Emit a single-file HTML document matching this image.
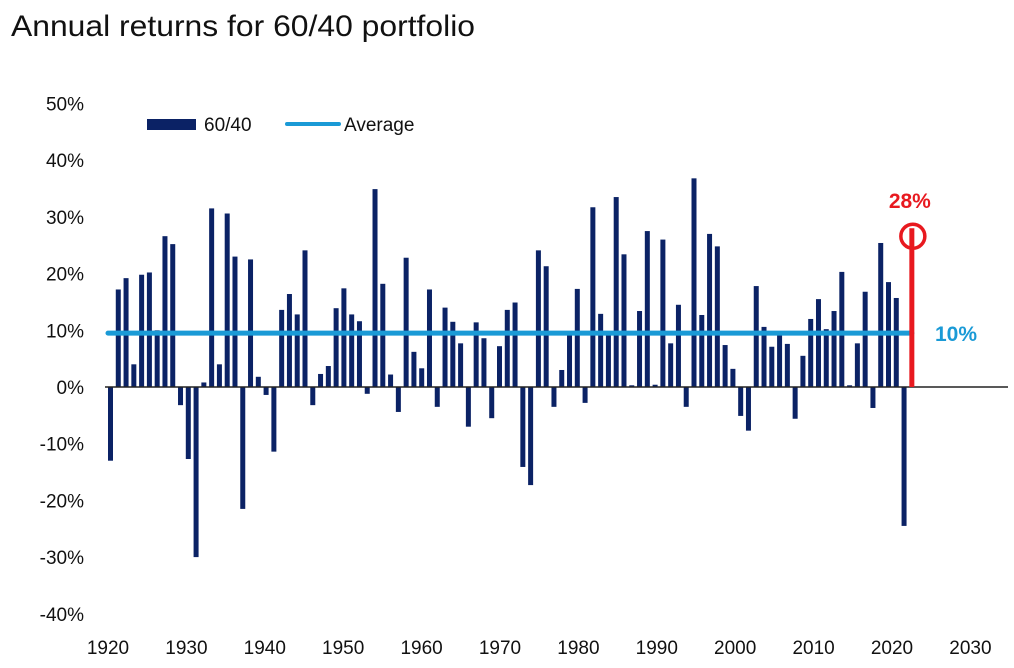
<!DOCTYPE html>
<html><head><meta charset="utf-8"><style>
body{margin:0;background:#fff;}
svg{display:block;font-family:"Liberation Sans",Arial,sans-serif;}
</style></head><body>
<svg id="chart" width="1014" height="668" viewBox="0 0 1014 668">
<text x="11" y="36" font-size="30" fill="#111" textLength="464" lengthAdjust="spacingAndGlyphs">Annual returns for 60/40 portfolio</text>
<g id="yaxis"></g>
<g id="xaxis"></g>
<g id="bars"></g>
<line x1="105" y1="387" x2="1008" y2="387" stroke="#222" stroke-width="1.5"/>
<g id="overlay"></g>
<g>
<rect x="147" y="119" width="49" height="11" fill="#0b2265"/>
<text x="204" y="131" font-size="19" fill="#111">60/40</text>
<line x1="287" y1="124" x2="339" y2="124" stroke="#1a9ad6" stroke-width="4" stroke-linecap="round"/>
<text x="344" y="131" font-size="19" fill="#111">Average</text>
</g>
</svg>
<script>
const startYear = 1920;
const returns6040 = [-13,17.2,19.2,4,19.8,20.2,10,26.6,25.2,-3.2,-12.7,-30,0.8,31.5,4,30.6,23,-21.5,22.5,1.8,
-1.4,-11.4,13.6,16.4,12.8,24.1,-3.2,2.3,3.7,13.9,17.4,12.8,11.6,-1.2,34.9,18.2,2.2,-4.4,22.8,6.2,
3.3,17.2,-3.5,14,11.5,7.7,-7,11.4,8.6,-5.5,7.2,13.6,14.9,-14.1,-17.3,24.1,21.3,-3.5,3,9.8,
17.3,-2.8,31.7,12.9,9.8,33.5,23.4,0.3,13.4,27.5,0.4,26,7.7,14.5,-3.5,36.8,12.7,27,24.8,7.4,
3.2,-5.1,-7.7,17.8,10.6,7.1,9.2,7.6,-5.6,5.5,12,15.5,10.2,13.4,20.3,0.3,7.7,16.8,-3.7,25.4,
18.5,15.7,-24.5];
const highlightYear = 2023;
const highlightValue = 28;
const averageValue = 9.5;
const yTicks = [50,40,30,20,10,0,-10,-20,-30,-40];
const xTicks = [1920,1930,1940,1950,1960,1970,1980,1990,2000,2010,2020,2030];

const NS="http://www.w3.org/2000/svg";
function y(v){return 387 - v*5.67;}
function x(yr){return 108 + (yr-1920)*7.84;}
function bx(yr){return 110.5 + (yr-1920)*7.78;}
function mk(tag,attrs,parent){const e=document.createElementNS(NS,tag);for(const k in attrs)e.setAttribute(k,attrs[k]);parent.appendChild(e);return e;}
const ya=document.getElementById('yaxis'), xa=document.getElementById('xaxis'), bg=document.getElementById('bars'), ov=document.getElementById('overlay');
yTicks.forEach(t=>{
  const e=mk('text',{x:84,y:y(t)+7,'font-size':19,'text-anchor':'end',fill:'#111'},ya);
  
  
  e.textContent=t+'%';
});
xTicks.forEach(t=>{
  const e=mk('text',{x:x(t),y:654,'font-size':19,'text-anchor':'middle',fill:'#111'},xa);
  
  
  e.textContent=t;
});
returns6040.forEach((v,i)=>{
  const cx=bx(startYear+i);
  const r=mk('rect',{x:cx-2.5,y:Math.min(y(v),y(0)),width:5,height:Math.abs(y(v)-y(0)),fill:'#0b2265'},bg);
  
  
});
const hx=bx(highlightYear);
const avg=mk('line',{x1:108,y1:y(averageValue),x2:hx,y2:y(averageValue),stroke:'#1a9ad6','stroke-width':5,'stroke-linecap':'round'},ov);


const al=mk('text',{x:935,y:y(averageValue)+8,'font-size':21,'font-weight':'bold',fill:'#1a9ad6'},ov);


al.textContent='10%';
const hb=mk('rect',{x:hx-2.5,y:y(highlightValue),width:5,height:y(0)-y(highlightValue),fill:'#e8191f'},ov);


const hc=mk('circle',{cx:hx+1,cy:y(highlightValue)+8,r:12,fill:'none',stroke:'#e8191f','stroke-width':3.5},ov);


const hl=mk('text',{x:hx-2,y:208,'font-size':21,'font-weight':'bold',fill:'#e8191f','text-anchor':'middle'},ov);


hl.textContent=highlightValue+'%';
</script>
</body></html>
